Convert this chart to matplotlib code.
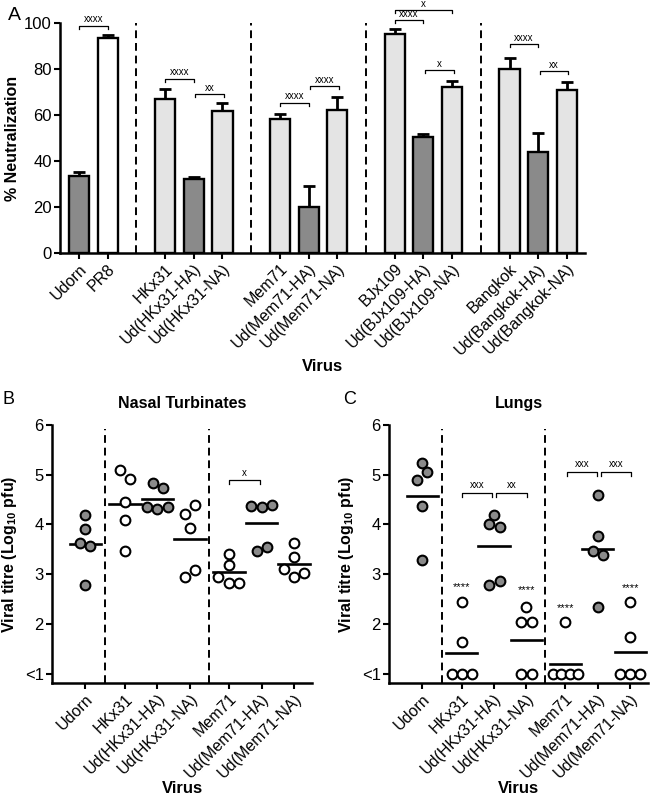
import numpy as np
import matplotlib
matplotlib.use('Agg')
import matplotlib.pyplot as plt

plt.rcParams['font.family'] = ['Liberation Sans', 'DejaVu Sans']
plt.rcParams['mathtext.fontset'] = 'custom'
plt.rcParams['mathtext.rm'] = 'Liberation Sans'
plt.rcParams['mathtext.bf'] = 'Liberation Sans:bold'

# ---- panel A data ----
a_labels = ['Udorn', 'PR8', 'HKx31', 'Ud(HKx31-HA)', 'Ud(HKx31-NA)',
            'Mem71', 'Ud(Mem71-HA)', 'Ud(Mem71-NA)',
            'BJx109', 'Ud(BJx109-HA)', 'Ud(BJx109-NA)',
            'Bangkok', 'Ud(Bangkok-HA)', 'Ud(Bangkok-NA)']
a_pos = [0, 1, 3, 4, 5, 7, 8, 9, 11, 12, 13, 15, 16, 17]
a_vals = [33.5, 93.3, 67.1, 32.3, 61.7, 58.1, 20.0, 62.2, 95.3, 50.3, 72.2, 80.0, 43.9, 70.7]
a_err = [1.6, 1.5, 4.3, 0.9, 3.7, 2.5, 9.3, 5.8, 2.1, 1.3, 2.4, 4.8, 8.3, 3.6]
a_kind = ['d', 'w', 'l', 'd', 'l', 'l', 'd', 'l', 'l', 'd', 'l', 'l', 'd', 'l']
a_sep = [2, 6, 10, 14]
a_brackets = [(0, 1, 98.8, 'xxxx'), (3, 4, 75.7, 'xxxx'), (4.05, 5.05, 69.0, 'xx'),
              (7, 8, 65.3, 'xxxx'), (8.05, 9.05, 72.4, 'xxxx'),
              (11, 12, 101.3, 'xxxx'), (11, 13, 105.5, 'x'), (12.05, 13.05, 79.4, 'x'),
              (15, 16, 90.7, 'xxxx'), (16.05, 17.05, 79.0, 'xx')]

# ---- panels B / C data ----
bc_labels = ['Udorn', 'HKx31', 'Ud(HKx31-HA)', 'Ud(HKx31-NA)',
             'Mem71', 'Ud(Mem71-HA)', 'Ud(Mem71-NA)']
bc_pos = [0, 1.22, 2.22, 3.22, 4.42, 5.42, 6.42]
bc_filled = [True, False, True, False, False, True, False]
bc_sep = [0.6, 3.8]

nasal_vals = [[4.19, 3.91, 3.63, 3.57, 2.78],
              [5.09, 4.91, 4.45, 4.09, 3.47],
              [4.83, 4.74, 4.35, 4.31, 4.35],
              [4.21, 4.38, 3.93, 2.95, 3.09],
              [3.41, 3.19, 2.95, 2.83, 2.83],
              [4.36, 4.34, 4.39, 3.46, 3.55],
              [3.63, 3.34, 3.11, 2.95, 3.03]]
nasal_jit = [[0, 0, -0.17, 0.15, 0],
             [-0.16, 0.17, 0, 0, 0],
             [-0.15, 0.16, -0.31, 0, 0.31],
             [-0.16, 0.16, 0, -0.16, 0.16],
             [0, 0, -0.33, 0, 0.31],
             [-0.31, 0, 0.33, -0.15, 0.17],
             [0, 0, -0.31, 0, 0.31]]
nasal_brackets = [(4.42, 5.38, 4.89, 'x')]
nasal_stars = []

lung_vals = [[5.23, 5.06, 4.89, 4.37, 3.28],
             [2.45, 1.64, 1, 1, 1],
             [4.19, 4.01, 3.95, 2.79, 2.87],
             [2.35, 2.05, 2.05, 1, 1],
             [2.05, 1, 1, 1, 1],
             [4.59, 3.77, 3.47, 3.39, 2.35],
             [2.45, 1.75, 1, 1, 1]]
lung_jit = [[0, 0.16, -0.15, 0, 0],
            [0, 0, -0.31, 0, 0.31],
            [0, -0.16, 0.17, -0.16, 0.17],
            [0, -0.16, 0.16, -0.16, 0.16],
            [0, -0.38, -0.13, 0.13, 0.38],
            [0, 0, -0.16, 0.17, 0],
            [0, 0, -0.31, 0, 0.31]]
lung_brackets = [(1.22, 2.16, 4.64, 'xxx'), (2.29, 3.24, 4.64, 'xx'),
                 (4.46, 5.40, 5.06, 'xxx'), (5.52, 6.46, 5.06, 'xxx')]
lung_stars = [(1.22, 2.74), (3.22, 2.68), (4.42, 2.33), (6.42, 2.72)]

colors = {'d': '#8a8a8a', 'l': '#e4e4e4', 'w': '#ffffff'}
W, H = 650, 796


def px_axes(fig, left, top, right, bottom):
    return fig.add_axes([left / W, 1 - bottom / H, (right - left) / W, (bottom - top) / H])


def style(ax):
    for s in ['top', 'right']:
        ax.spines[s].set_visible(False)
    for s in ['left', 'bottom']:
        ax.spines[s].set_linewidth(1.8)
    ax.tick_params(width=1.5, length=4, labelsize=12, pad=2)


def bracket(ax, x1, x2, y, h, txt, fs):
    ax.plot([x1, x1, x2, x2], [y - h, y, y, y - h], color='black', lw=0.9, clip_on=False)
    ax.text((x1 + x2) / 2, y + h * 0.5, txt, ha='center', va='bottom', fontsize=fs, clip_on=False)


fig = plt.figure(figsize=(6.5, 7.96), dpi=100)

# ---------------- A ----------------
ax = px_axes(fig, 60, 23, 585, 253)
style(ax)
ax.bar(a_pos, a_vals, width=0.7, color=[colors[k] for k in a_kind],
       edgecolor='black', linewidth=1.7, zorder=2)
ax.errorbar(a_pos, a_vals, yerr=[np.zeros(len(a_err)), a_err], fmt='none',
            ecolor='black', elinewidth=2, capsize=4.5, capthick=2, zorder=1)
for s in a_sep:
    ax.plot([s, s], [0, 100], color='black', lw=1.4, ls=(0, (4, 2.5)))
for x1, x2, y, t in a_brackets:
    bracket(ax, x1, x2, y, 1.3, t, 7)
ax.set_xlim(-0.66, 17.63)
ax.set_ylim(0, 100)
ax.set_yticks([0, 20, 40, 60, 80, 100])
ax.set_xticks(a_pos)
ax.set_xticklabels(a_labels, rotation=45, ha='right', rotation_mode='anchor', fontsize=11.5)
ax.set_ylabel('% Neutralization', fontsize=11.5, fontweight='bold', labelpad=3)
ax.set_xlabel('Virus', fontsize=12, fontweight='bold', labelpad=1)
fig.text(8 / W, 1 - 16 / H, 'A', fontsize=14, va='center')


def scatter_panel(left, right, vals, jit, brackets, stars, title, letter, lx):
    ax = px_axes(fig, left, 424.7, right, 683)
    style(ax)
    for i, (p, v, j) in enumerate(zip(bc_pos, vals, jit)):
        fc = '#8a8a8a' if bc_filled[i] else 'white'
        ax.plot(np.array(j) + p, v, 'o', ms=7, mfc=fc, mec='black', mew=1.5,
                clip_on=False, zorder=3)
        m = np.mean(v)
        ax.plot([p - 0.48, p + 0.48], [m, m], color='black', lw=1.9, zorder=2)
    for s in bc_sep:
        ax.plot([s, s], [0.82, 5.92], color='black', lw=1.4, ls=(0, (4, 2.5)))
    for x1, x2, y, t in brackets:
        bracket(ax, x1, x2, y, 0.085, t, 7)
    for x, y in stars:
        ax.text(x, y, '****', ha='center', va='center', fontsize=8)
    ax.set_xlim(-1.02, 6.97)
    ax.set_ylim(0.82, 6)
    ax.set_yticks([1, 2, 3, 4, 5, 6])
    ax.set_yticklabels(['<1', '2', '3', '4', '5', '6'])
    ax.set_xticks(bc_pos)
    ax.set_xticklabels(bc_labels, rotation=45, ha='right', rotation_mode='anchor', fontsize=11.5)
    ax.set_ylabel(r'Viral titre (Log$_{\mathbf{10}}$ pfu)', fontsize=11.5, fontweight='bold')
    ax.set_xlabel('Virus', fontsize=12, fontweight='bold', labelpad=0)
    ax.set_title(title, fontsize=11.5, fontweight='bold', pad=12)
    fig.text(lx / W, 1 - 400 / H, letter, fontsize=13, va='center')


scatter_panel(52, 312, nasal_vals, nasal_jit, nasal_brackets, nasal_stars,
              'Nasal Turbinates', 'B', 2)
scatter_panel(389, 648, lung_vals, lung_jit, lung_brackets, lung_stars,
              'Lungs', 'C', 343)

fig.savefig('out.png', dpi=100)
